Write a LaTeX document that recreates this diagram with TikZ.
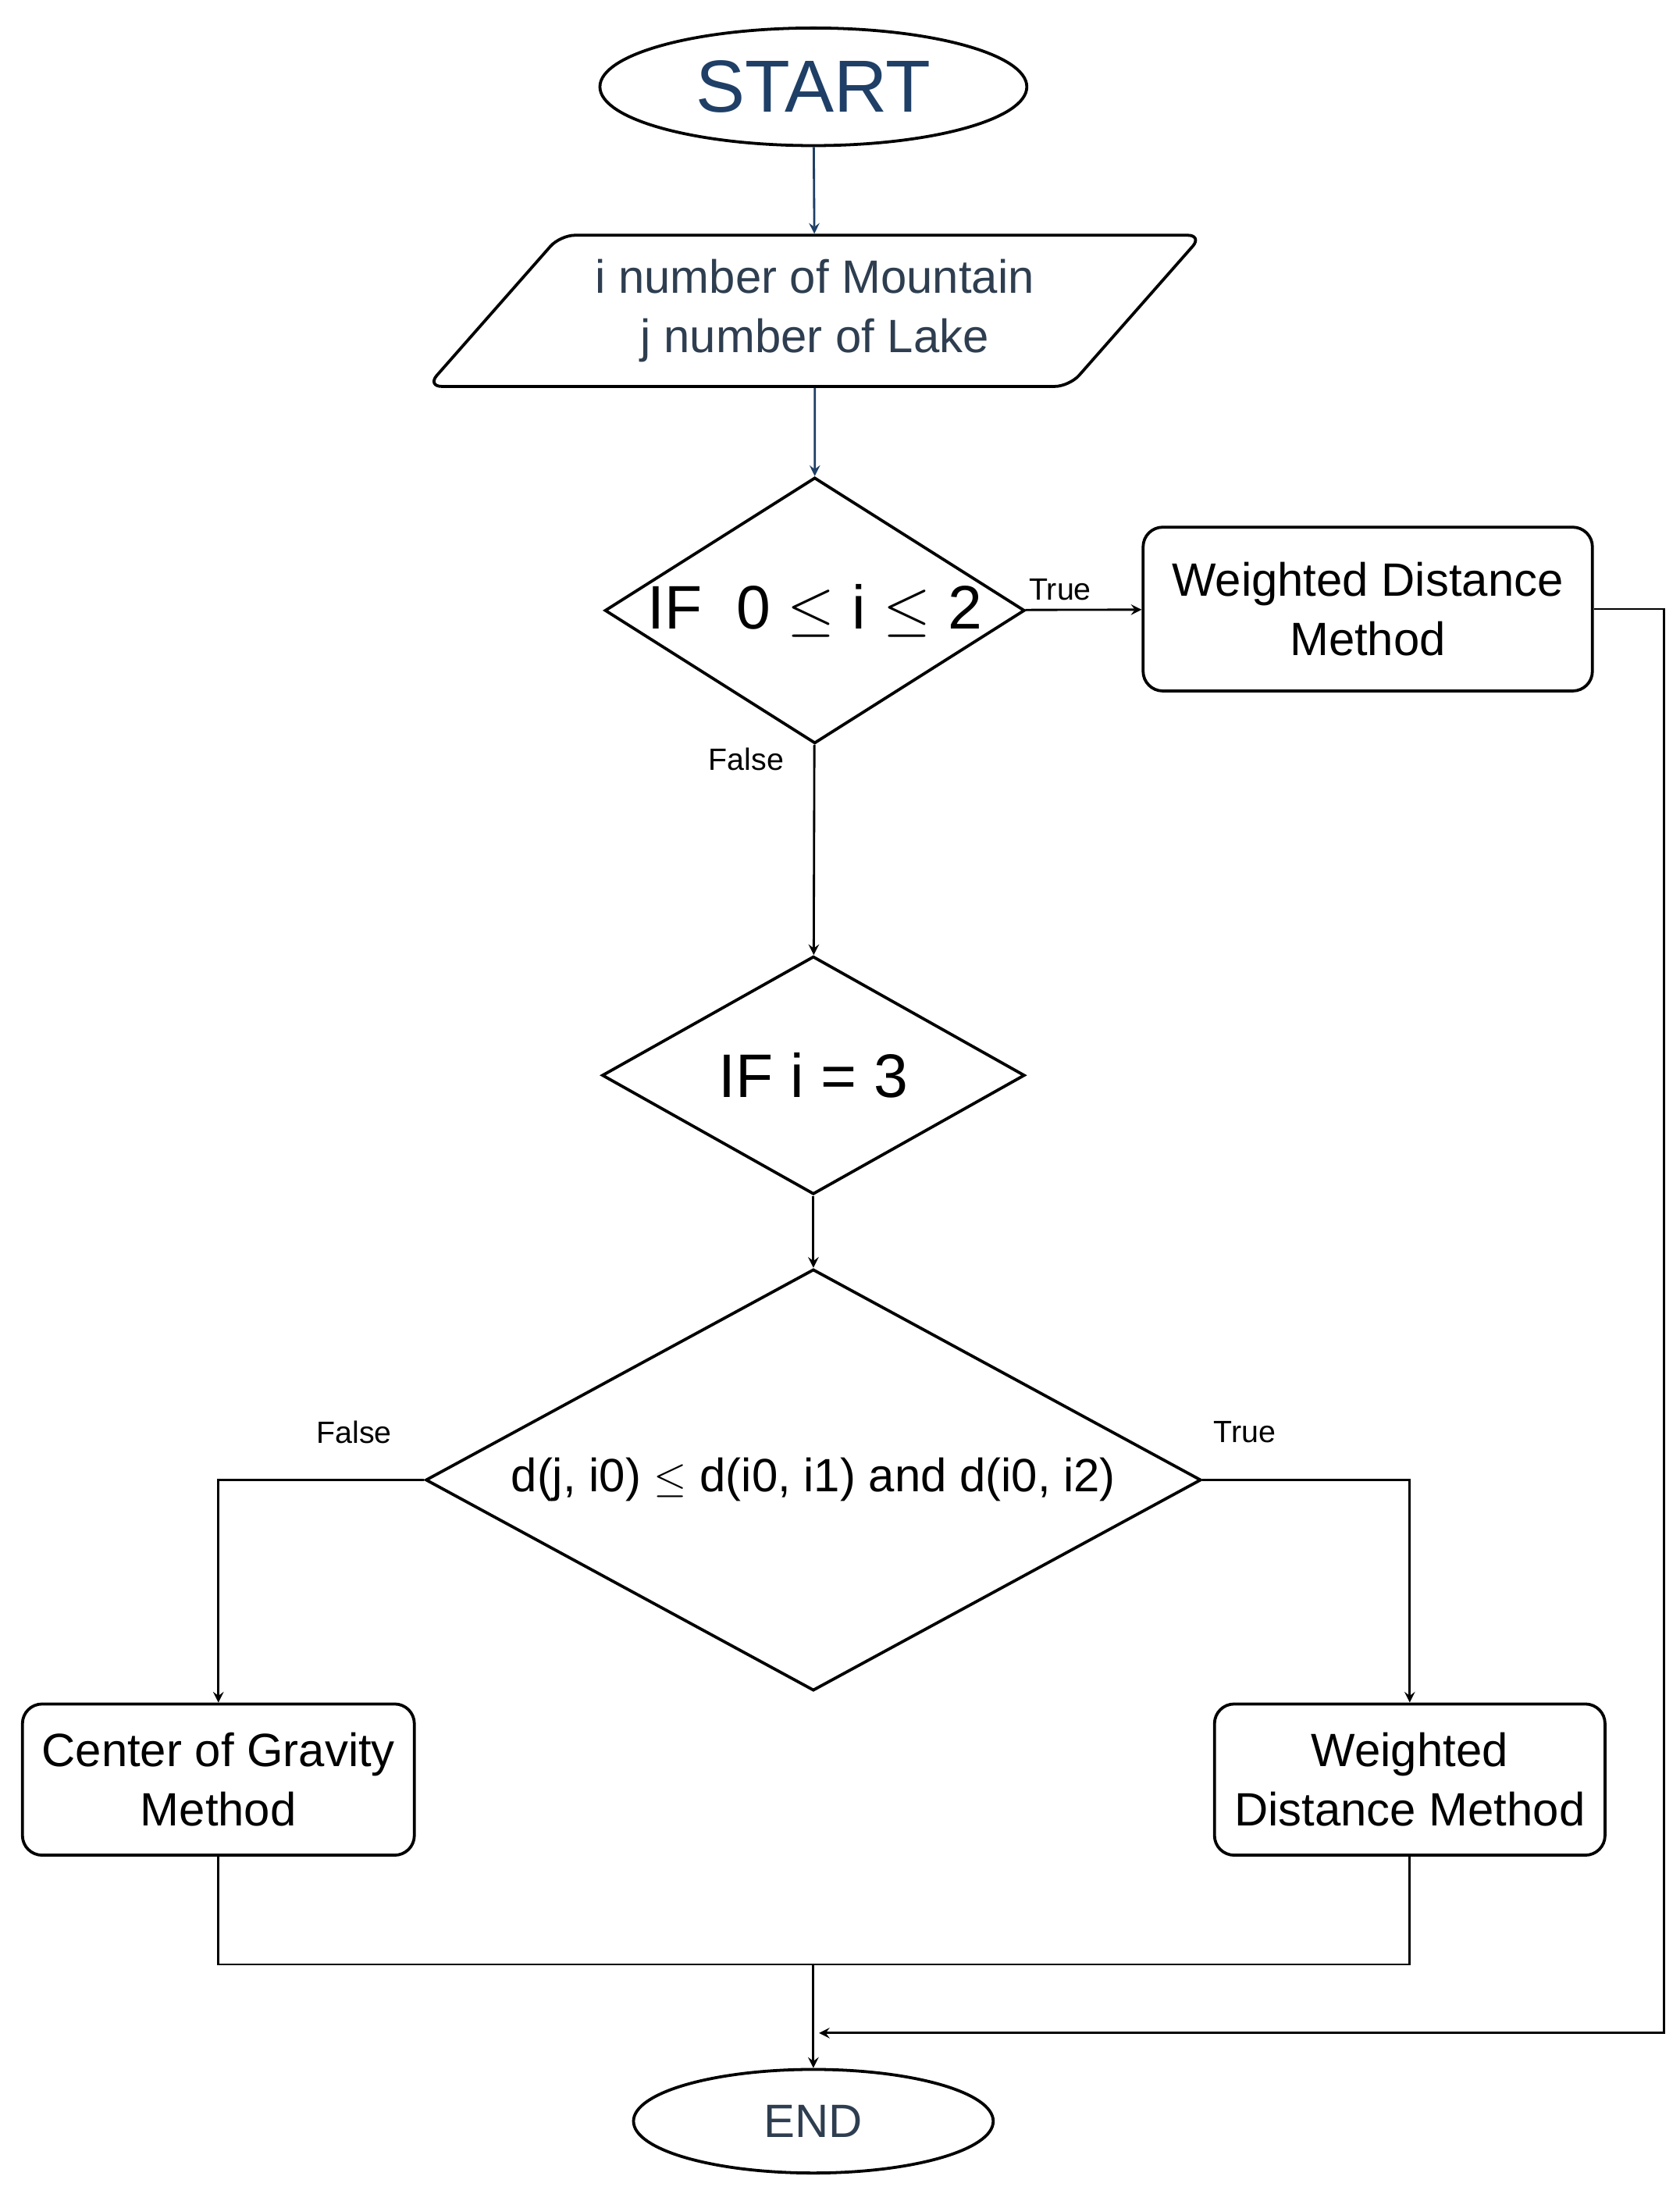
\documentclass[tikz,border=0pt]{standalone}
\usepackage{fontspec}
\setmainfont{Liberation Sans}
\usetikzlibrary{shapes.geometric, arrows}
\definecolor{navy}{HTML}{1F3F66}
\definecolor{slate}{HTML}{2E3E50}
\tikzstyle{startstop} = [ellipse, draw=black, line width=1.2pt, inner sep=0pt, text centered]
\tikzstyle{io} = [trapezium, trapezium left angle=45, trapezium right angle=135, trapezium stretches=true, rounded corners=6pt, draw=black, line width=1.2pt, text centered, align=center, text=slate]
\tikzstyle{process} = [rectangle, rounded corners=8pt, draw=black, line width=1.2pt, text centered, align=center]
\tikzstyle{decision} = [diamond, draw=black, line width=1.2pt, inner sep=0pt, aspect=1.6, text centered]
\tikzstyle{arrow} = [line width=0.9pt,->,>=stealth]
\tikzstyle{line} = [line width=0.9pt]
\tikzstyle{lbl} = [font=\fontsize{12.5}{14}\selectfont]
\begin{document}
\begin{tikzpicture}[x=0.02cm, y=-0.02cm]
    \useasboundingbox (0,0) rectangle (1200,1572);

    \node (start) [startstop, minimum width=6.1cm, minimum height=1.68cm, text=navy, font=\fontsize{30}{34}\selectfont] at (581,62) {START};
    \node (input) [io, minimum width=11.1cm, minimum height=2.16cm, font=\fontsize{19}{24}\selectfont] at (582,222) {i number of Mountain\\j number of Lake};
    \node (ifone) [decision, minimum width=6cm, minimum height=3.8cm, font=\fontsize{25}{28}\selectfont] at (582,436) {IF\ \ 0 $\leq$ i $\leq$ 2};
    \node (wdmone) [process, minimum width=6.42cm, minimum height=2.34cm, font=\fontsize{19}{24}\selectfont] at (977,435) {Weighted Distance\\Method};
    \node (iftwo) [decision, minimum width=6.04cm, minimum height=3.4cm, font=\fontsize{25}{28}\selectfont] at (581,768) {IF i = 3};
    \node (dist) [decision, minimum width=11.08cm, minimum height=4.66cm, font=\fontsize{19}{24}\selectfont] at (581,1057) {d(j, i0) $\leq$ d(i0, i1) and d(i0, i2)};
    \node (cog) [process, minimum width=5.6cm, minimum height=2.16cm, font=\fontsize{19}{24}\selectfont] at (156,1271) {Center of Gravity\\Method};
    \node (wdmtwo) [process, minimum width=5.58cm, minimum height=2.16cm, font=\fontsize{19}{24}\selectfont] at (1007,1271) {Weighted\\Distance Method};
    \node (end) [startstop, minimum width=5.14cm, minimum height=1.48cm, text=slate, font=\fontsize{19}{24}\selectfont] at (581,1515) {END};

    \coordinate (join) at (581,1403);
    \coordinate (merge) at (585,1452);

    \draw [arrow, navy] (start) -- (input);
    \draw [arrow, navy] (input) -- (ifone);
    \draw [arrow] (ifone) -- node[lbl, above, pos=0.3] {True} (wdmone);
    \draw [arrow] (ifone) -- (iftwo);
    \draw [arrow] (iftwo) -- (dist);
    \draw [arrow] (dist.west) -| (cog.north);
    \draw [arrow] (dist.east) -| (wdmtwo.north);
    \draw [arrow] (wdmone.east) -- ++(50,0) |- (merge);
    \draw [line] (cog.south) |- (join) -| (wdmtwo.south);
    \draw [arrow] (join) -- (end);

    \node (falseone) [lbl] at (533,542) {False};
    \node (falsetwo) [lbl] at (253,1023) {False};
    \node (truetwo) [lbl] at (889,1023) {True};
\end{tikzpicture}
\end{document}
